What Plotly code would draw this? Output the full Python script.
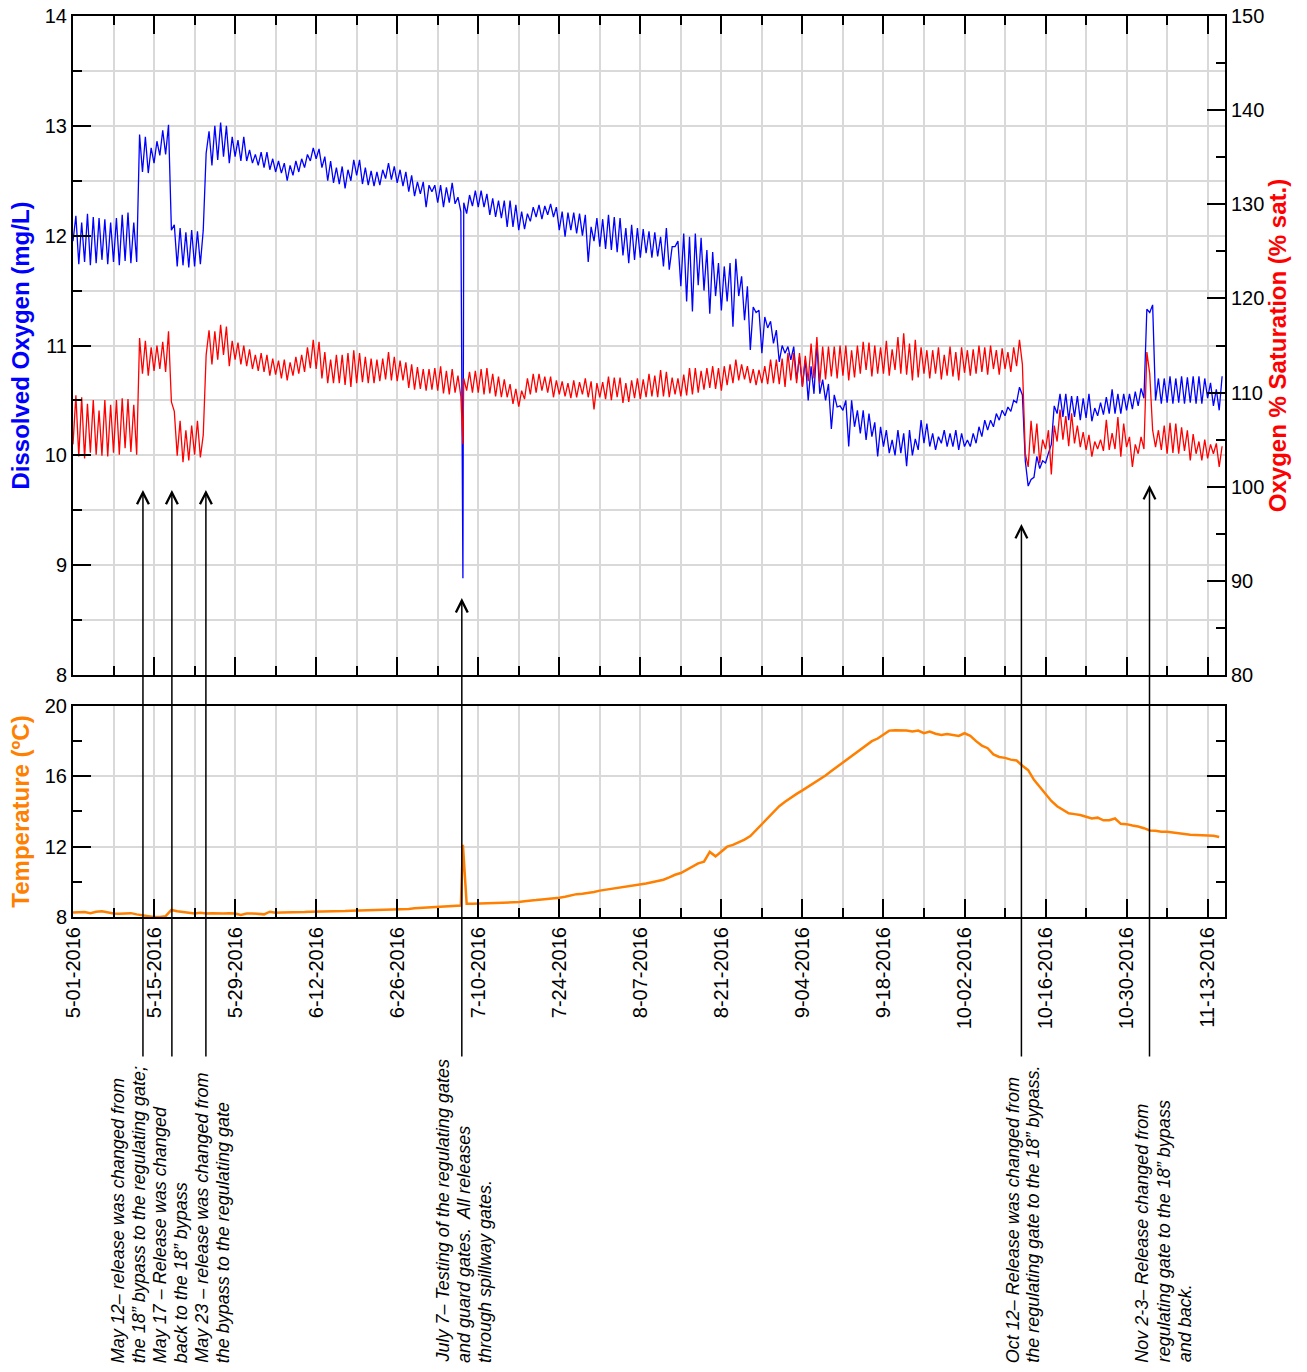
import pandas as pd
import plotly.graph_objects as go

# ---------------------------------------------------------------------------
# Data: readings at 00:00 and 12:00 for each day, 1 May – 15 Nov 2016
# ---------------------------------------------------------------------------
START = "2016-05-01"
END = "2016-11-16"
N_DAYS = 199

# Dissolved oxygen (mg/L)
DO_MIDNIGHT = [
    11.95, 11.74, 11.76, 11.73, 11.75, 11.78, 11.74, 11.76, 11.73, 11.77,
    11.75, 11.76, 12.58, 12.57, 12.66, 12.73, 12.74, 12.05, 11.72, 11.73,
    11.71, 11.72, 11.74, 12.75, 12.64, 12.69, 12.72, 12.66, 12.72, 12.68,
    12.68, 12.66, 12.64, 12.62, 12.60, 12.58, 12.57, 12.50, 12.55, 12.58,
    12.62, 12.68, 12.70, 12.62, 12.50, 12.48, 12.47, 12.43, 12.50, 12.55,
    12.47, 12.46, 12.45, 12.46, 12.52, 12.51, 12.48, 12.45, 12.40, 12.36,
    12.38, 12.26, 12.40, 12.30, 12.26, 12.30, 12.29, 12.22, 12.20, 12.27,
    12.26, 12.26, 12.19, 12.17, 12.16, 12.08, 12.08, 12.05, 12.06, 12.13,
    12.17, 12.15, 12.19, 12.17, 12.05, 11.99, 12.05, 12.02, 12.00, 11.76,
    11.95, 11.90, 11.88, 11.87, 11.85, 11.82, 11.75, 11.78, 11.80, 11.84,
    11.80, 11.81, 11.72, 11.69, 11.90, 11.54, 11.40, 11.31, 11.55, 11.50,
    11.29, 11.45, 11.32, 11.40, 11.17, 11.45, 11.23, 10.96, 11.30, 10.93,
    11.16, 11.02, 10.85, 10.93, 10.87, 10.69, 10.63, 10.50, 10.56, 10.56,
    10.50, 10.24, 10.44, 10.41, 10.08, 10.26, 10.20, 10.14, 10.17, 9.99,
    10.08, 10.02, 10.00, 10.02, 9.90, 10.00, 10.05, 10.11, 10.08, 10.05,
    10.11, 10.08, 10.08, 10.05, 10.08, 10.08, 10.11, 10.17, 10.23, 10.26,
    10.32, 10.36, 10.40, 10.48, 10.55, 9.72, 9.80, 9.88, 9.93, 10.10,
    10.38, 10.35, 10.32, 10.35, 10.32, 10.34, 10.31, 10.36, 10.37, 10.38,
    10.38, 10.38, 10.41, 10.42, 10.45, 10.52, 11.30, 10.50, 10.47, 10.48,
    10.47, 10.48, 10.47, 10.48, 10.47, 10.47, 10.52, 10.45, 10.41,
]
DO_NOON = [
    12.18, 12.12, 12.20, 12.17, 12.16, 12.15, 12.12, 12.16, 12.19, 12.21,
    12.12, 12.92, 12.90, 12.80, 12.86, 12.96, 13.01, 12.10, 12.07, 12.03,
    12.05, 12.04, 12.05, 12.95, 13.00, 13.03, 13.00, 12.90, 12.87, 12.90,
    12.78, 12.74, 12.76, 12.76, 12.70, 12.68, 12.66, 12.64, 12.68, 12.70,
    12.74, 12.80, 12.79, 12.72, 12.68, 12.62, 12.63, 12.60, 12.69, 12.69,
    12.62, 12.59, 12.58, 12.60, 12.66, 12.63, 12.60, 12.58, 12.55, 12.49,
    12.49, 12.46, 12.46, 12.46, 12.44, 12.48, 12.35, 12.30, 12.37, 12.41,
    12.41, 12.38, 12.34, 12.32, 12.32, 12.32, 12.28, 12.22, 12.20, 12.26,
    12.28, 12.27, 12.29, 12.26, 12.22, 12.21, 12.21, 12.20, 12.19, 12.08,
    12.16, 12.15, 12.19, 12.17, 12.16, 12.07, 12.10, 12.07, 12.06, 12.04,
    12.03, 11.99, 12.07, 11.90, 11.95, 12.02, 11.99, 12.02, 11.98, 11.87,
    11.85, 11.75, 11.72, 11.75, 11.79, 11.63, 11.54, 11.35, 11.32, 11.26,
    11.22, 11.14, 11.00, 10.99, 10.99, 10.90, 10.87, 10.81, 11.02, 10.69,
    10.65, 10.55, 10.45, 10.50, 10.50, 10.41, 10.41, 10.38, 10.30, 10.26,
    10.23, 10.14, 10.23, 10.20, 10.23, 10.15, 10.32, 10.29, 10.20, 10.17,
    10.23, 10.20, 10.23, 10.20, 10.14, 10.20, 10.26, 10.32, 10.32, 10.38,
    10.41, 10.44, 10.50, 10.62, 9.95, 9.78, 9.99, 9.95, 10.02, 10.45,
    10.56, 10.56, 10.54, 10.54, 10.52, 10.56, 10.43, 10.48, 10.53, 10.60,
    10.56, 10.56, 10.56, 10.58, 10.61, 11.33, 11.37, 10.70, 10.70, 10.72,
    10.70, 10.72, 10.71, 10.72, 10.72, 10.70, 10.66, 10.60, 10.72,
]

# Oxygen saturation (%)
SAT_MIDNIGHT = [
    104.5, 103.2, 103.0, 103.6, 103.4, 103.3, 103.2, 103.6, 103.4, 104.1,
    103.7, 103.4, 112.0, 111.8, 112.3, 112.5, 112.2, 109.0, 103.3, 102.6,
    102.8, 103.4, 103.1, 114.0, 113.0, 113.5, 114.0, 112.8, 113.5, 113.0,
    112.8, 112.5, 112.3, 112.2, 111.8, 111.9, 111.5, 111.3, 111.8, 112.0,
    112.2, 112.6, 112.5, 111.5, 111.0, 111.0, 111.0, 110.8, 110.6, 111.0,
    111.1, 111.0, 111.0, 111.2, 111.4, 111.3, 111.2, 111.3, 110.5, 110.3,
    110.4, 110.2, 110.3, 110.2, 109.9, 109.8, 110.0, 109.6, 110.2, 110.0,
    110.0, 109.8, 109.9, 109.6, 109.5, 109.5, 108.8, 108.5, 109.3, 109.8,
    110.0, 110.2, 110.0, 109.5, 109.8, 109.6, 109.4, 109.5, 109.8, 109.5,
    108.2, 109.5, 109.3, 109.2, 109.5, 108.9, 109.0, 109.4, 109.3, 109.5,
    109.6, 109.5, 109.6, 109.5, 109.8, 109.6, 109.7, 109.8, 110.0, 110.3,
    110.5, 110.4, 110.2, 110.8, 111.0, 111.3, 111.4, 111.0, 110.8, 111.0,
    110.9, 111.0, 110.9, 110.6, 111.3, 111.0, 110.6, 111.2, 111.5, 111.0,
    111.4, 111.7, 111.5, 111.8, 111.3, 111.6, 112.0, 112.4, 111.7, 112.0,
    112.0, 111.8, 112.4, 112.0, 111.9, 111.3, 111.6, 112.0, 111.5, 112.0,
    111.4, 111.8, 111.7, 111.3, 112.1, 111.8, 112.0, 112.2, 111.9, 112.5,
    111.9, 112.5, 112.2, 112.8, 113.0, 102.1, 103.5, 102.5, 104.0, 101.3,
    104.8, 105.0, 104.3, 104.6, 104.2, 103.9, 103.2, 104.0, 103.8, 103.9,
    104.0, 103.2, 104.2, 102.1, 103.5, 104.0, 112.0, 104.2, 103.9, 103.5,
    103.6, 103.5, 103.8, 102.8, 103.5, 102.8, 103.0, 103.5, 102.1,
]
SAT_NOON = [
    109.7, 109.5, 108.8, 109.2, 108.1, 109.2, 108.7, 109.2, 109.4, 109.3,
    108.7, 115.8, 115.5, 114.8, 115.0, 115.4, 116.5, 108.0, 107.0, 106.0,
    106.5, 107.0, 105.5, 116.6, 116.5, 117.2, 117.0, 115.5, 115.3, 115.0,
    114.6, 114.0, 114.2, 114.0, 113.6, 113.4, 113.5, 113.2, 113.8, 114.0,
    114.8, 115.6, 115.4, 114.3, 113.5, 114.0, 114.0, 114.2, 114.5, 114.2,
    113.8, 113.6, 113.5, 113.6, 114.3, 113.8, 113.4, 113.2, 113.0, 112.7,
    112.5, 112.5, 112.6, 112.8, 112.3, 112.5, 111.8, 111.5, 112.2, 112.3,
    112.5, 112.6, 112.0, 111.7, 111.4, 110.9, 110.4, 110.2, 111.5, 112.0,
    112.0, 111.7, 111.7, 111.3, 111.2, 111.0, 111.3, 111.1, 111.5, 111.2,
    111.0, 111.1, 111.7, 111.6, 111.6, 111.0, 111.3, 111.5, 111.4, 112.0,
    111.8, 112.4, 112.2, 111.6, 111.5, 111.9, 112.6, 112.6, 112.3, 112.6,
    112.8, 112.6, 112.8, 113.0, 113.5, 113.0, 112.8, 112.5, 112.4, 112.8,
    113.5, 113.5, 113.6, 114.2, 114.2, 114.2, 113.9, 115.2, 115.9, 114.9,
    114.9, 114.9, 115.0, 115.0, 114.5, 115.0, 115.4, 115.3, 115.0, 114.8,
    115.5, 114.6, 115.9, 116.3, 115.2, 115.6, 114.8, 114.5, 114.5, 114.8,
    114.0, 114.9, 114.3, 114.8, 114.5, 114.6, 115.0, 114.8, 115.0, 114.5,
    114.7, 114.3, 114.8, 115.6, 103.5, 107.0, 106.7, 105.0, 106.0, 106.5,
    108.2, 107.5, 107.8, 106.5, 105.8, 105.5, 104.8, 105.0, 107.1, 105.7,
    107.4, 106.7, 105.3, 104.5, 105.3, 114.3, 106.0, 106.0, 106.5, 106.8,
    106.7, 106.3, 106.0, 105.6, 104.8, 105.0, 104.5, 104.6, 104.3,
]

# Water temperature (ºC), daily at 00:00
TEMP_DAILY = [
    8.25, 8.27, 8.28, 8.22, 8.30, 8.33, 8.25, 8.20, 8.18, 8.20,
    8.22, 8.15, 8.12, 8.05, 8.00, 8.00, 8.05, 8.40, 8.33, 8.28,
    8.25, 8.20, 8.24, 8.20, 8.22, 8.20, 8.20, 8.21, 8.20, 8.12,
    8.20, 8.20, 8.18, 8.15, 8.30, 8.24, 8.25, 8.25, 8.26, 8.27,
    8.28, 8.30, 8.30, 8.30, 8.31, 8.32, 8.32, 8.34, 8.36, 8.37,
    8.38, 8.38, 8.40, 8.40, 8.41, 8.42, 8.42, 8.44, 8.46, 8.50,
    8.52, 8.51, 8.53, 8.56, 8.58, 8.58, 8.62, 8.65, 8.75, 8.75,
    8.76, 8.77, 8.78, 8.80, 8.82, 8.84, 8.83, 8.85, 8.90, 8.95,
    8.96, 9.00, 9.02, 9.05, 9.10, 9.15, 9.22, 9.30, 9.32, 9.36,
    9.42, 9.50, 9.55, 9.60, 9.65, 9.70, 9.75, 9.78, 9.82, 9.90,
    9.98, 10.05, 10.12, 10.25, 10.40, 10.50, 10.70, 10.90, 11.05, 11.15,
    11.70, 11.45, 11.75, 12.00, 12.10, 12.25, 12.40, 12.60, 12.95, 13.30,
    13.60, 13.95, 14.30, 14.55, 14.80, 15.00, 15.20, 15.40, 15.60, 15.85,
    16.05, 16.30, 16.55, 16.80, 17.05, 17.30, 17.55, 17.80, 18.00, 18.15,
    18.40, 18.60, 18.62, 18.62, 18.60, 18.55, 18.60, 18.45, 18.55, 18.42,
    18.35, 18.40, 18.35, 18.30, 18.45, 18.30, 18.00, 17.75, 17.60, 17.25,
    17.10, 17.05, 16.95, 16.90, 16.60, 16.35, 15.80, 15.40, 14.95, 14.60,
    14.30, 14.10, 13.90, 13.85, 13.80, 13.70, 13.60, 13.65, 13.50, 13.50,
    13.60, 13.30, 13.28, 13.20, 13.15, 13.05, 12.92, 12.90, 12.85, 12.85,
    12.80, 12.75, 12.72, 12.68, 12.66, 12.65, 12.62, 12.62, 12.55,
]

# Extra reading taken during the gate test on July 7
EVENT_TIME = "2016-07-07 08:30"
EVENT_DO = 8.88
EVENT_SAT = 104.5
EVENT_TEMP = 12.1

# Operational events: arrow date, arrow tip (mg/L)
EVENT_DATES = [
    "2016-05-13 02:00", "2016-05-18 02:00", "2016-05-23 23:00",
    "2016-07-07 04:00", "2016-10-11 20:00", "2016-11-02 23:00",
]
EVENT_TIPS = [9.685, 9.685, 9.685, 8.70, 9.375, 9.73]

# Notes printed under the axis: (anchor event index, first-line offset px, lines)
NOTES = [
    (0, -25, [
        "May 12– release was changed from",
        "the 18” bypass to the regulating gate;",
        "May 17 – Release was changed",
        "back to the 18” bypass",
        "May 23 – release was changed from",
        "the bypass to the regulating gate",
    ]),
    (3, -19, [
        "July 7– Testing of the regulating gates",
        "and guard gates.  All releases",
        "through spillway gates.",
    ]),
    (4, -9, [
        "Oct 12– Release was changed from",
        "the regulating gate to the 18” bypass.",
    ]),
    (5, -7, [
        "Nov 2-3– Release changed from",
        "regulating gate to the 18” bypass",
        "and back.",
    ]),
]

# ---------------------------------------------------------------------------
# Build time series
# ---------------------------------------------------------------------------
days = pd.date_range(START, periods=N_DAYS, freq="D")
noon = days + pd.Timedelta(hours=12)
event_t = pd.Timestamp(EVENT_TIME)


def twice_daily(mid_vals, noon_vals, event_val):
    df = pd.DataFrame({
        "t": list(days) + list(noon) + [event_t],
        "v": list(mid_vals) + list(noon_vals) + [event_val],
    }).sort_values("t")
    return df["t"], df["v"]


do_t, do_v = twice_daily(DO_MIDNIGHT, DO_NOON, EVENT_DO)
sat_t, sat_v = twice_daily(SAT_MIDNIGHT, SAT_NOON, EVENT_SAT)
tdf = pd.DataFrame({"t": list(days) + [event_t],
                    "v": list(TEMP_DAILY) + [EVENT_TEMP]}).sort_values("t")

# ---------------------------------------------------------------------------
# Layout constants
# ---------------------------------------------------------------------------
W, H = 1307, 1372
M_L, M_R, M_T, M_B = 73, 82, 16, 455
PLOT_H = H - M_T - M_B
TOP_DOMAIN = [0.2686, 1.0]
BOT_DOMAIN = [0.0, 0.2342]
TOP_PANEL_H = (TOP_DOMAIN[1] - TOP_DOMAIN[0]) * PLOT_H
ARROW_TAIL_PX = 1058          # where the event lines end below the axis
NOTE_BASE_Y = -0.497          # paper y of the start of note text
NOTE_LINE_GAP = 21

FONT = "Liberation Sans, Arial, Helvetica, sans-serif"
GRID = "#d9d9d9"
DAY_MS = 86400000
BLUE, RED, ORANGE = "#0000ff", "#ff0000", "#ff8000"
TICK_SIZE = 20
TITLE_SIZE = 24

fig = go.Figure()
fig.add_trace(go.Scatter(x=do_t, y=do_v, xaxis="x2", yaxis="y2", mode="lines",
                         line=dict(color=BLUE, width=1.3), name="Dissolved Oxygen"))
fig.add_trace(go.Scatter(x=sat_t, y=sat_v, xaxis="x2", yaxis="y3", mode="lines",
                         line=dict(color=RED, width=1.3), name="Oxygen % Saturation"))
fig.add_trace(go.Scatter(x=tdf["t"], y=tdf["v"], xaxis="x", yaxis="y", mode="lines",
                         line=dict(color=ORANGE, width=2.5), name="Temperature"))

tick_common = dict(showline=True, linecolor="black", linewidth=2, ticks="inside",
                   tickcolor="black", tickwidth=2, ticklen=18, zeroline=False,
                   automargin=False,
                   tickfont=dict(family=FONT, size=TICK_SIZE, color="black"))

x_common = dict(type="date", range=[START, END], tick0=START, dtick=14 * DAY_MS,
                showgrid=True, gridcolor=GRID, gridwidth=1.5,
                minor=dict(tick0=START, dtick=7 * DAY_MS, ticklen=9, ticks="inside",
                           tickcolor="black", tickwidth=2, showgrid=True,
                           gridcolor=GRID, gridwidth=1.5),
                **tick_common)

fig.update_layout(
    template="none",
    width=W, height=H,
    margin=dict(l=M_L, r=M_R, t=M_T, b=M_B, autoexpand=False),
    paper_bgcolor="white", plot_bgcolor="white",
    showlegend=False,
    font=dict(family=FONT, color="black"),
    xaxis=dict(domain=[0, 1], anchor="y", tickformat="%-m-%d-%Y", tickangle=-90,
               mirror=True, **x_common),
    xaxis2=dict(domain=[0, 1], anchor="y2", matches="x", showticklabels=False,
                mirror="ticks", **x_common),
    yaxis=dict(domain=BOT_DOMAIN, anchor="x", range=[8, 20], tick0=8, dtick=4,
               showgrid=True, gridcolor=GRID, gridwidth=1.5, mirror="ticks",
               minor=dict(dtick=2, ticklen=9, ticks="inside", tickcolor="black",
                          tickwidth=2, showgrid=False),
               title=dict(text="Temperature (ºC)", standoff=8,
                          font=dict(family=FONT, size=TITLE_SIZE, color=ORANGE,
                                    weight="bold")),
               **tick_common),
    yaxis2=dict(domain=TOP_DOMAIN, anchor="x2", range=[8, 14], tick0=8, dtick=1,
                showgrid=True, gridcolor=GRID, gridwidth=1.5,
                minor=dict(dtick=0.5, ticklen=9, ticks="inside", tickcolor="black",
                           tickwidth=2, showgrid=True, gridcolor=GRID, gridwidth=1.5),
                title=dict(text="Dissolved Oxygen (mg/L)", standoff=8,
                           font=dict(family=FONT, size=TITLE_SIZE, color=BLUE,
                                     weight="bold")),
                **tick_common),
    yaxis3=dict(overlaying="y2", anchor="x2", side="right", range=[80, 150],
                tick0=80, dtick=10, showgrid=False,
                minor=dict(dtick=5, ticklen=9, ticks="inside", tickcolor="black",
                           tickwidth=2, showgrid=False),
                title=dict(text="Oxygen % Saturation (% sat.)", standoff=6,
                           font=dict(family=FONT, size=TITLE_SIZE, color=RED,
                                     weight="bold")),
                **tick_common),
)

# Event arrows: from below the date axis up to the tip in the oxygen panel
for date, tip in zip(EVENT_DATES, EVENT_TIPS):
    tip_px = M_T + (14 - tip) / 6 * TOP_PANEL_H
    fig.add_annotation(x=date, y=tip, xref="x2", yref="y2",
                       ax=0, ay=ARROW_TAIL_PX - tip_px, axref="pixel", ayref="pixel",
                       showarrow=True, arrowhead=5, arrowsize=1.55, arrowwidth=1.5,
                       arrowcolor="black", standoff=0, text="")

# Event notes, one rotated annotation per line
for idx, offset, lines in NOTES:
    for k, line in enumerate(lines):
        fig.add_annotation(x=EVENT_DATES[idx], y=NOTE_BASE_Y, xref="x", yref="paper",
                           xanchor="center", yanchor="bottom", textangle=-90,
                           xshift=offset + k * NOTE_LINE_GAP, showarrow=False,
                           text=line,
                           font=dict(family=FONT, size=18, color="black",
                                     style="italic"))

fig.write_html("out.html")
